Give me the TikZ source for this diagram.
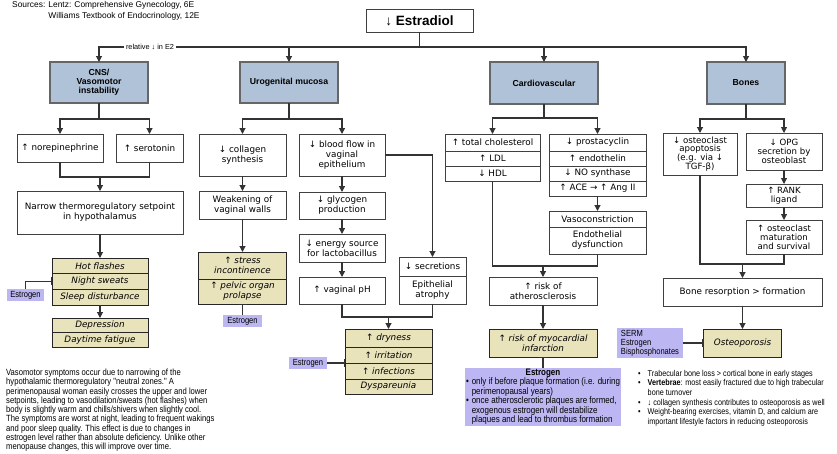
\documentclass[tikz,border=0pt]{standalone}
\usepackage{fontspec}
\setmainfont{Liberation Sans}
\newfontfamily\narrowfont{Liberation Sans}[FakeStretch=0.85]
\newfontfamily\boxfamily{DejaVu Sans}
\usetikzlibrary{arrows.meta}
\definecolor{headblue}{HTML}{B0C2D8}
\definecolor{symptomtan}{HTML}{E9E3BC}
\definecolor{drugviolet}{HTML}{BCB7F2}
\definecolor{wiregray}{HTML}{333333}
\newcommand{\boxfont}{\boxfamily\fontsize{8.8}{10}\selectfont\lineskiplimit=-20pt}
\newcommand{\tightfont}{\boxfamily\fontsize{8.6}{8.8}\selectfont\lineskiplimit=-20pt}
\newcommand{\notefont}{\narrowfont\fontsize{9}{9.25}\selectfont}

\begin{document}
\begin{tikzpicture}[x=1pt, y=-1pt,
    box/.style={draw=black!75, line width=0.8pt, fill=white, align=center, inner sep=1.5pt, outer sep=0pt, font=\boxfont},
    head/.style={draw=black!60, line width=1.3pt, fill=headblue, align=center, outer sep=0pt, font=\fontsize{8.7}{9.2}\selectfont\bfseries},
    symp/.style={box, draw=black!85, line width=1pt, fill=symptomtan, font=\boxfont\itshape},
    drug/.style={fill=drugviolet, inner sep=1pt, outer sep=0pt, font=\narrowfont\fontsize{8.9}{9}\selectfont},
    arr/.style={-{Triangle[length=6pt, width=6pt]}, line width=1.1pt, wiregray},
    wire/.style={line width=1.1pt, wiregray},
    inh/.style={-{Bar[width=8pt]}, line width=1.1pt, wiregray},
]
\useasboundingbox (0,0) rectangle (837,453);

% Sources and title
\node[anchor=north west, inner sep=0pt, font=\fontsize{8.4}{11}\selectfont] (src) at (12,0)
  {\begin{tabular}{@{}l@{ }l@{}}Sources: & Lentz: Comprehensive Gynecology, 6E\\ & Williams Textbook of Endocrinology, 12E\end{tabular}};
\node[box, line width=0.9pt, minimum width=107pt, minimum height=23pt, font=\fontsize{13.5}{14}\selectfont\bfseries] (estr) at (419.5,20.5) {↓ Estradiol};

% Systems
\node[head, minimum width=98pt, minimum height=41pt] (cns) at (99,82.5) {CNS/\\Vasomotor\\instability};
\node[head, minimum width=98pt, minimum height=41pt] (uro) at (289,82.5) {Urogenital mucosa};
\node[head, minimum width=108pt, minimum height=42pt] (cardio) at (544,83) {Cardiovascular};
\node[head, minimum width=78pt, minimum height=42pt] (bones) at (746,83) {Bones};

\coordinate (trunk) at (419.5,47);
\draw[wire] (estr) -- (trunk);
\draw[arr] (trunk) -| (cns);
\draw[arr] (trunk) -| (uro);
\draw[arr] (trunk) -| (cardio);
\draw[arr] (trunk) -| (bones);
\node[fill=white, inner sep=2pt, font=\fontsize{7.3}{8}\selectfont] (rel) at (150,47) {relative ↓ in E2};

% CNS / vasomotor
\node[box, minimum width=86pt, minimum height=28pt] (norepi) at (60,148) {↑ norepinephrine};
\node[box, minimum width=67pt, minimum height=28pt] (sero) at (149.5,148) {↑ serotonin};
\node[box, minimum width=166pt, minimum height=43pt] (setpt) at (100,212.5) {Narrow thermoregulatory setpoint\\in hypothalamus};
\node[symp, minimum width=96pt, minimum height=15.5pt] (hot) at (100,265.75) {Hot flashes};
\node[symp, minimum width=96pt, minimum height=15.5pt] (night) at (100,281.25) {Night sweats};
\node[symp, minimum width=96pt, minimum height=16pt] (sleep) at (100,297) {Sleep disturbance};
\node[drug, minimum width=37pt, minimum height=12pt] (estA) at (25.5,295) {Estrogen};
\node[symp, minimum width=96pt, minimum height=14.5pt] (depr) at (100,325.25) {Depression};
\node[symp, minimum width=96pt, minimum height=14.5pt] (fatig) at (100,339.75) {Daytime fatigue};
\node[anchor=north west, inner sep=0pt, align=left, font=\notefont] (vasonote) at (6,369)
  {Vasomotor symptoms occur due to narrowing of the\\
   hypothalamic thermoregulatory "neutral zones." A\\
   perimenopausal woman easily crosses the upper and lower\\
   setpoints, leading to vasodilation/sweats (hot flashes) when\\
   body is slightly warm and chills/shivers when slightly cool.\\
   The symptoms are worst at night, leading to frequent wakings\\
   and poor sleep quality. This effect is due to changes in\\
   estrogen level rather than absolute deficiency. Unlike other\\
   menopause changes, this will improve over time.};

\coordinate (cnsfork) at (99,119);
\coordinate (cnsjoin) at (100,177);
\draw[wire] (cns) -- (cnsfork);
\draw[arr] (cnsfork) -| (norepi);
\draw[arr] (cnsfork) -| (sero);
\draw[wire] (norepi) |- (cnsjoin);
\draw[wire] (sero) |- (cnsjoin);
\draw[arr] (cnsjoin) -- (setpt);
\draw[arr] (setpt) -- (hot);
\draw[inh] (estA) |- (night);
\draw[arr] (sleep) -- (depr);

% Urogenital
\node[box, minimum width=87pt, minimum height=42pt] (collag) at (242.5,155) {↓ collagen\\synthesis};
\node[box, minimum width=86pt, minimum height=42pt] (blood) at (342,155) {↓ blood flow in\\vaginal\\epithelium};
\node[box, minimum width=87pt, minimum height=28pt] (weak) at (242.5,205) {Weakening of\\vaginal walls};
\node[symp, minimum width=88pt, minimum height=27pt] (stress) at (242.5,265.5) {↑ stress\\incontinence};
\node[symp, minimum width=88pt, minimum height=25pt] (prolap) at (242.5,291.5) {↑ pelvic organ\\prolapse};
\node[drug, minimum width=39pt, minimum height=12pt] (estB) at (242.5,321) {Estrogen};
\node[box, minimum width=86pt, minimum height=27pt] (glyco) at (342,205.5) {↓ glycogen\\production};
\node[box, minimum width=86pt, minimum height=28pt] (energy) at (342,248) {↓ energy source\\for lactobacillus};
\node[box, minimum width=86pt, minimum height=27pt] (ph) at (342,290.5) {↑ vaginal pH};
\node[box, minimum width=67pt, minimum height=19pt] (secr) at (432.5,266.5) {↓ secretions};
\node[box, minimum width=67pt, minimum height=28pt] (atroph) at (432.5,290) {Epithelial\\atrophy};
\node[symp, minimum width=87pt, minimum height=18pt] (dry) at (388.5,338) {↑ dryness};
\node[symp, minimum width=87pt, minimum height=16pt] (irrit) at (388.5,355) {↑ irritation};
\node[symp, minimum width=87pt, minimum height=16pt] (infect) at (388.5,371) {↑ infections};
\node[symp, minimum width=87pt, minimum height=15pt] (dyspar) at (388.5,386.5) {Dyspareunia};
\node[drug, minimum width=38pt, minimum height=12pt] (estC) at (308,363) {Estrogen};

\coordinate (urofork) at (289,119);
\coordinate (urojoin) at (388.5,317);
\draw[wire] (uro) -- (urofork);
\draw[arr] (urofork) -| (collag);
\draw[arr] (urofork) -| (blood);
\draw[arr] (collag) -- (weak);
\draw[arr] (weak) -- (stress);
\draw[inh] (estB) -- (prolap);
\draw[arr] (blood) -- (glyco);
\draw[arr] (glyco) -- (energy);
\draw[arr] (energy) -- (ph);
\draw[arr] (blood) -| (secr);
\draw[wire] (ph) |- (urojoin);
\draw[wire] (atroph) |- (urojoin);
\draw[arr] (urojoin) -- (dry);
\draw[inh] (estC) -- (estC -| dry.west);

% Cardiovascular
\node[box, minimum width=95pt, minimum height=17pt] (chol) at (492.5,142.5) {↑ total cholesterol};
\node[box, minimum width=95pt, minimum height=15pt] (ldl) at (492.5,158.5) {↑ LDL};
\node[box, minimum width=95pt, minimum height=15pt] (hdl) at (492.5,173.5) {↓ HDL};
\node[box, minimum width=97pt, minimum height=17pt] (prost) at (597.5,142.5) {↓ prostacyclin};
\node[box, minimum width=97pt, minimum height=15pt] (endo) at (597.5,158.5) {↑ endothelin};
\node[box, minimum width=97pt, minimum height=15pt] (nos) at (597.5,173.5) {↓ NO synthase};
\node[box, minimum width=97pt, minimum height=15pt] (ace) at (597.5,188.5) {↑ ACE → ↑ Ang II};
\node[box, minimum width=97pt, minimum height=16pt] (vaso) at (597.5,219) {Vasoconstriction};
\node[box, minimum width=97pt, minimum height=27pt] (dysf) at (597.5,240.5) {Endothelial\\dysfunction};
\node[box, minimum width=108pt, minimum height=28pt] (ather) at (543,291) {↑ risk of\\atherosclerosis};
\node[symp, minimum width=108pt, minimum height=28pt] (mi) at (543,343) {↑ risk of myocardial\\infarction};
\node[drug, minimum width=149pt, minimum height=58pt, font=\narrowfont\fontsize{9.4}{8.8}\selectfont] (estD) at (543,397)
  {\begin{tabular}{@{}l@{\hspace{3pt}}l@{}}
   \multicolumn{2}{c}{\textbf{Estrogen}}\\
   • & only if before plaque formation (i.e. during\\
     & perimenopausal years)\\
   • & once atherosclerotic plaques are formed,\\
     & exogenous estrogen will destabilize\\
     & plaques and lead to thrombus formation
   \end{tabular}};

\coordinate (cardfork) at (544,118);
\coordinate (cardjoin) at (543,266);
\draw[wire] (cardio) -- (cardfork);
\draw[arr] (cardfork) -| (chol);
\draw[arr] (cardfork) -| (prost);
\draw[arr] (ace) -- (vaso);
\draw[wire] (hdl) |- (cardjoin);
\draw[wire] (dysf) |- (cardjoin);
\draw[arr] (cardjoin) -- (ather);
\draw[arr] (ather) -- (mi);
\draw[inh] (estD) -- (mi);

% Bones
\node[box, font=\tightfont, minimum width=74pt, minimum height=42pt] (apopt) at (700,154) {↓ osteoclast\\apoptosis\\(e.g. via ↓\\TGF-β)};
\node[box, font=\tightfont, minimum width=76pt, minimum height=37pt] (opg) at (784,151.5) {↓ OPG\\secretion by\\osteoblast};
\node[box, font=\tightfont, minimum width=76pt, minimum height=23pt] (rank) at (784,195.5) {↑ RANK\\ligand};
\node[box, font=\tightfont, minimum width=76pt, minimum height=34pt] (matur) at (784,237) {↑ osteoclast\\maturation\\and survival};
\node[box, minimum width=159pt, minimum height=28pt] (resorp) at (742.5,292) {Bone resorption > formation};
\node[symp, minimum width=78pt, minimum height=28pt] (osteo) at (742.5,343) {Osteoporosis};
\node[drug, align=left, minimum width=66pt, minimum height=30pt] (serm) at (650,343) {SERM\\Estrogen\\Bisphosphonates};
\node[anchor=north west, inner sep=0pt, font=\narrowfont\fontsize{8.5}{9.6}\selectfont] (bonenote) at (638,369.3)
  {\begin{tabular}{@{}l@{\hspace{7pt}}l@{}}
   • & Trabecular bone loss > cortical bone in early stages\\
   • & \textbf{Vertebrae}: most easily fractured due to high trabecular\\
     & bone turnover\\
   • & ↓ collagen synthesis contributes to osteoporosis as well\\
   • & Weight-bearing exercises, vitamin D, and calcium are\\
     & important lifestyle factors in reducing osteoporosis
   \end{tabular}};

\coordinate (bonefork) at (746,119);
\coordinate (bonejoin) at (742.5,264);
\draw[wire] (bones) -- (bonefork);
\draw[arr] (bonefork) -| (apopt);
\draw[arr] (bonefork) -| (opg);
\draw[arr] (opg) -- (rank);
\draw[arr] (rank) -- (matur);
\draw[wire] (apopt) |- (bonejoin);
\draw[wire] (matur) |- (bonejoin);
\draw[arr] (bonejoin) -- (resorp);
\draw[arr] (resorp) -- (osteo);
\draw[inh] (serm) -- (osteo);

\end{tikzpicture}
\end{document}
